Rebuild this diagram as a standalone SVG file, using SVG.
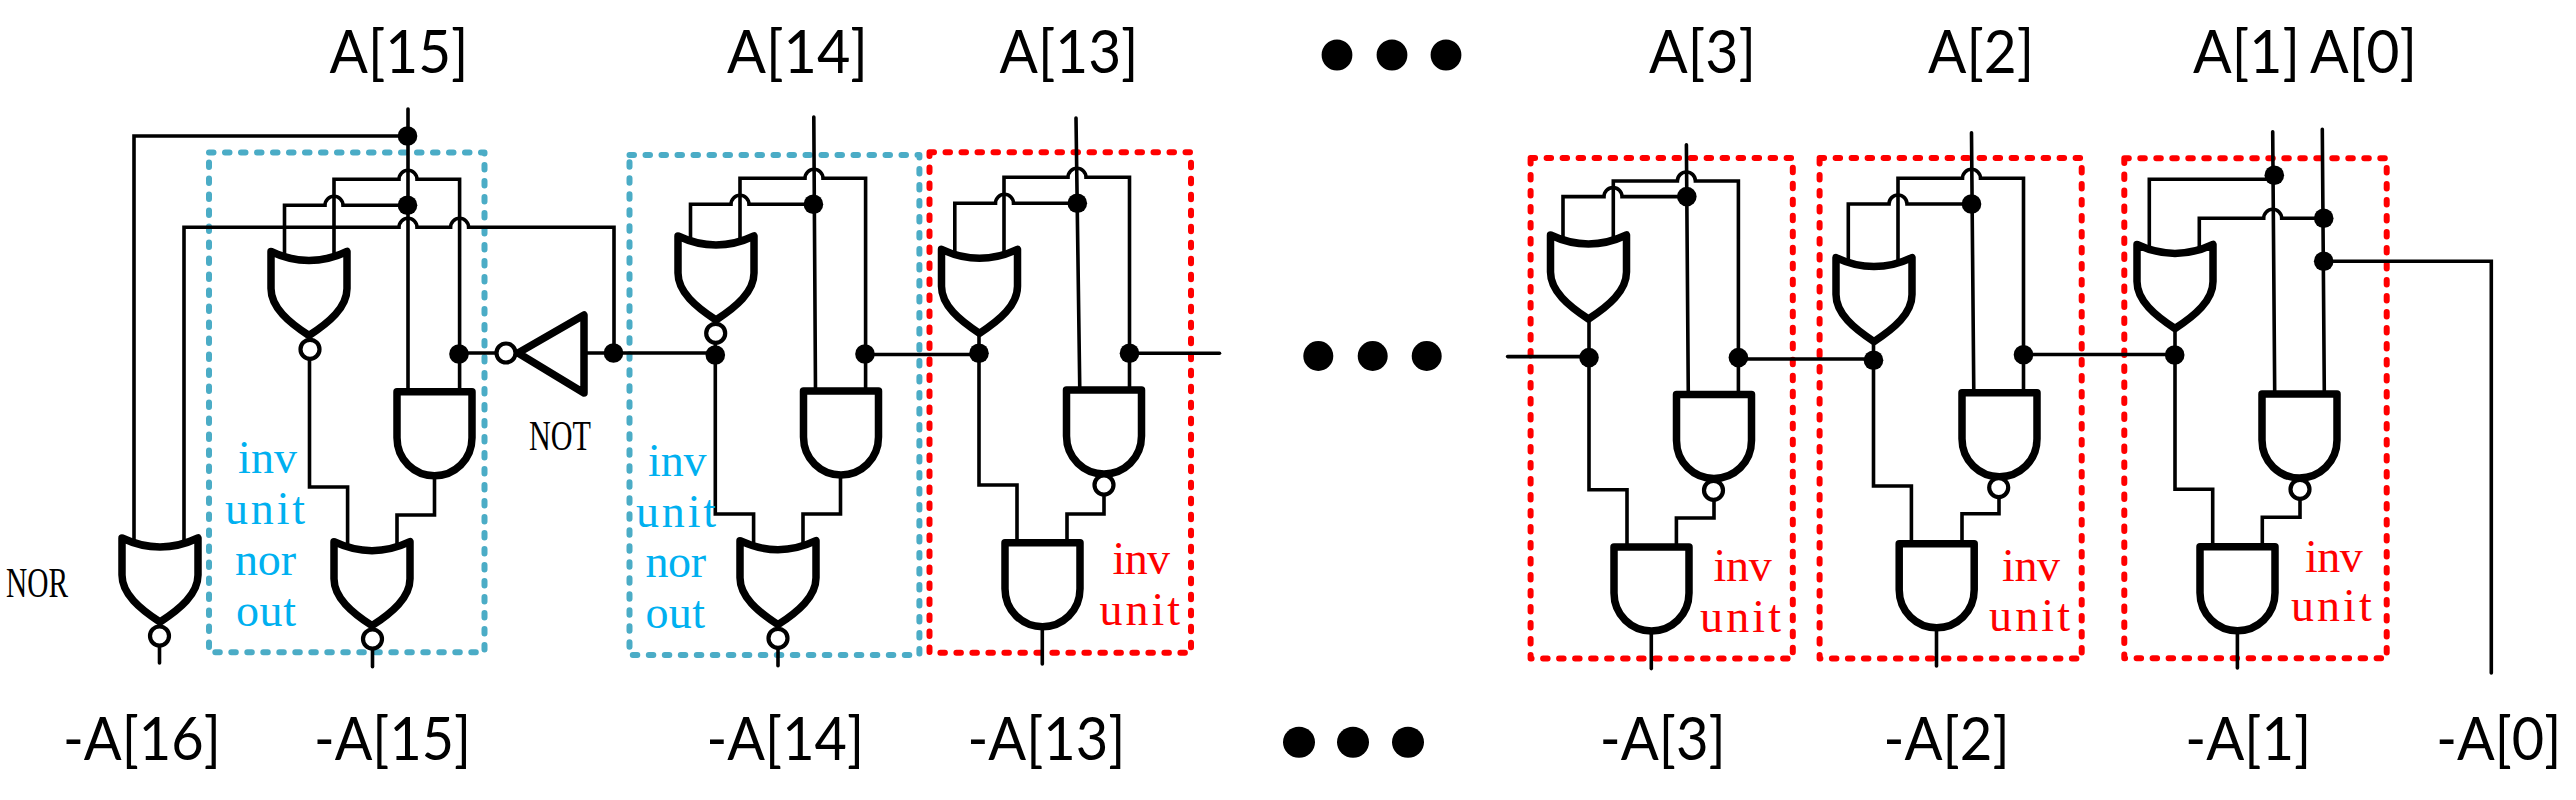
<svg xmlns="http://www.w3.org/2000/svg" xmlns:xlink="http://www.w3.org/1999/xlink" width="2576" height="800" viewBox="0 0 2576 800">
<style>
.bg{fill:#fff}
.box{fill:none;stroke-width:6;stroke-linecap:round;stroke-linejoin:round;stroke-dasharray:4.5 11.5}
.bb{stroke:#4BACC6}.rb{stroke:#FF0000}
.w{fill:none;stroke:#000;stroke-width:3.6;stroke-linejoin:miter;stroke-linecap:round}
.d{fill:#000}
.g{fill:#fff;stroke:#000;stroke-width:7.5;stroke-linejoin:round}
.b{fill:#fff;stroke:#000;stroke-width:4.2}
.t{font-family:"Lato","Liberation Sans",sans-serif;font-size:60px;fill:#000}
.s{font-family:"Liberation Serif","Noto Sans CJK SC",serif;font-size:46px}
.n{font-family:"Liberation Serif",serif;font-size:42px;fill:#000}
.cb{fill:#00B0F0}.cr{fill:#FF0000}
</style>
<defs>
<path id="or" class="g" d="M-38,0 Q0,18 38,0 V37 C38,56 20,71 0,84 C-20,71 -38,56 -38,37 Z"/>
<path id="and" class="g" d="M-37.5,0 H37.5 V46 C37.5,68 20,84 0,84 C-20,84 -37.5,68 -37.5,46 Z"/>
<circle id="bub" class="b" r="9.5"/>
<circle id="dot" class="d" r="9.8"/>
</defs>
<rect class="bg" width="2576" height="800"/>
<g id="boxes">
<rect id="box-15" class="box bb" x="209" y="152.5" width="275.5" height="499.8"/>
<rect id="box-14" class="box bb" x="629.5" y="155" width="289.9" height="500"/>
<rect id="box-13" class="box rb" x="929.5" y="152.3" width="261.5" height="500.4"/>
<rect id="box-3" class="box rb" x="1530.6" y="158" width="262.2" height="500.6"/>
<rect id="box-2" class="box rb" x="1819.6" y="158" width="262.1" height="500.6"/>
<rect id="box-1" class="box rb" x="2124.3" y="158.3" width="262.4" height="500"/>
</g>
<g id="connectors">
<path class="w" d="M408 109V390"/>
<path class="w" d="M408 136H134V545"/>
<path class="w" d="M184 545V227.3H399a9 9 0 0 1 18 0H450.6a9 9 0 0 1 18 0H614V353"/>
<path class="w" d="M334 256V179.3H399a9 9 0 0 1 18 0H459.6V392"/>
<path class="w" d="M284.5 256V205.3H325a9 9 0 0 1 18 0H408"/>
<path class="w" d="M309.5 358V487H347.6V545"/>
<path class="w" d="M434.5 475V515H397V545"/>
<path class="w" d="M372.5 648V666.7"/>
<path class="w" d="M159.5 645V663"/>
<path class="w" d="M459 353H497"/>
<path class="w" d="M584 353H715.3"/>
<path class="w" d="M813.8 117L815.5 391"/>
<path class="w" d="M690.5 240V204.3H731a9 9 0 0 1 18 0H813.4"/>
<path class="w" d="M740 240V178.3H805a9 9 0 0 1 18 0H865.6V391"/>
<path class="w" d="M715.3 345V514H753.6V545"/>
<path class="w" d="M840.5 474V514H803V545"/>
<path class="w" d="M778 648V665.7"/>
<path class="w" d="M865 354.5H979"/>
<path class="w" d="M1076 118L1079.8 391"/>
<path class="w" d="M954.8 254V203.3H995.5a9 9 0 0 1 18 0H1077.3"/>
<path class="w" d="M1004 254V177.3H1068a9 9 0 0 1 18 0H1129.5V391"/>
<path class="w" d="M979 333V485H1017V545"/>
<path class="w" d="M1104 485V514H1067V545"/>
<path class="w" d="M1042.3 626V664"/>
<path class="w" d="M1129.5 353.3H1219.5"/>
<path class="w" d="M1507.6 356.6H1589"/>
<path class="w" d="M1686.4 144.8L1688.3 395"/>
<path class="w" d="M1563 238V196.6H1604a9 9 0 0 1 18 0H1686.8"/>
<path class="w" d="M1613.3 238V181H1677.4a9 9 0 0 1 18 0H1738.4V395"/>
<path class="w" d="M1589 319V489.7H1627V547"/>
<path class="w" d="M1714 490V518H1676.4V547"/>
<path class="w" d="M1651.3 631V668.6"/>
<path class="w" d="M1738.4 359H1873"/>
<path class="w" d="M1971.5 132.8L1973.8 393"/>
<path class="w" d="M1848.3 262V204H1889a9 9 0 0 1 18 0H1971.5"/>
<path class="w" d="M1898 262V178.3H1962.5a9 9 0 0 1 18 0H2023.5V393"/>
<path class="w" d="M1873.5 341V486H1911.4V544"/>
<path class="w" d="M1999 488V513.8H1962V544"/>
<path class="w" d="M1936.5 628V666"/>
<path class="w" d="M2023.5 354.5H2174.7"/>
<path class="w" d="M2272.7 131.7L2274.7 392"/>
<path class="w" d="M2322.3 129.3L2324.3 392"/>
<path class="w" d="M2149.3 250V179.3H2274"/>
<path class="w" d="M2199.3 250V218.3H2263.7a9 9 0 0 1 18 0H2323.7"/>
<path class="w" d="M2323.7 261.3H2491.3V673"/>
<path class="w" d="M2175 331V489.3H2212.7V547"/>
<path class="w" d="M2300 489V517.3H2262.3V547"/>
<path class="w" d="M2237.4 631V668"/>
</g>
<g id="junctions">
<use href="#dot" x="407.5" y="136"/><use href="#dot" x="407.5" y="205.3"/>
<use href="#dot" x="459" y="354"/><use href="#dot" x="613.5" y="353"/>
<use href="#dot" x="715.3" y="355"/><use href="#dot" x="813.4" y="204.3"/><use href="#dot" x="865" y="354"/>
<use href="#dot" x="979" y="353.3"/><use href="#dot" x="1077.3" y="203.3"/><use href="#dot" x="1129.5" y="353.3"/>
<use href="#dot" x="1589" y="357.6"/><use href="#dot" x="1686.8" y="196.6"/><use href="#dot" x="1738.4" y="357.6"/>
<use href="#dot" x="1873.5" y="360.3"/><use href="#dot" x="1971.5" y="204"/><use href="#dot" x="2023.5" y="354.8"/>
<use href="#dot" x="2174.7" y="355"/><use href="#dot" x="2274.3" y="175.3"/><use href="#dot" x="2323.7" y="218.3"/><use href="#dot" x="2323.7" y="261.3"/>
</g>
<g id="nor-out"><use href="#or" x="160" y="538"/><use href="#bub" x="159.5" y="636"/></g>
<g id="u15-or-a"><use href="#or" x="309" y="251.5"/><use href="#bub" x="310" y="349.3"/></g>
<g id="u15-and"><use href="#and" x="434.5" y="391.7"/></g>
<g id="u15-or-b"><use href="#or" x="372" y="541.7"/><use href="#bub" x="372.5" y="639"/></g>
<g id="not-gate"><path class="g" d="M518 353L584 315V393Z" /><use href="#bub" x="506" y="353"/></g>
<g id="u14-or-a"><use href="#or" x="716" y="236"/><use href="#bub" x="715.7" y="333.3"/></g>
<g id="u14-and"><use href="#and" x="841" y="391"/></g>
<g id="u14-or-b"><use href="#or" x="778" y="540.7"/><use href="#bub" x="778" y="638.3"/></g>
<g id="u13-or"><use href="#or" x="979.5" y="249.3"/></g>
<g id="u13-nand"><use href="#and" x="1104" y="390"/><use href="#bub" x="1104" y="485"/></g>
<g id="u13-and"><use href="#and" x="1042.5" y="542.7"/></g>
<g id="u3-or"><use href="#or" x="1588.5" y="235"/></g>
<g id="u3-nand"><use href="#and" x="1714" y="394.5"/><use href="#bub" x="1713.5" y="490.3"/></g>
<g id="u3-and"><use href="#and" x="1651.5" y="547"/></g>
<g id="u2-or"><use href="#or" x="1874" y="257.6"/></g>
<g id="u2-nand"><use href="#and" x="1999.5" y="392.8"/><use href="#bub" x="1998.7" y="487.6"/></g>
<g id="u2-and"><use href="#and" x="1936.7" y="543.8"/></g>
<g id="u1-or"><use href="#or" x="2175" y="244.5"/></g>
<g id="u1-nand"><use href="#and" x="2299.5" y="394"/><use href="#bub" x="2300" y="489.3"/></g>
<g id="u1-and"><use href="#and" x="2237.5" y="546.7"/></g>
<g id="ellipsis-top" class="d"><ellipse cx="1337" cy="55" rx="15.4" ry="15.5"/><ellipse cx="1392" cy="55" rx="15.4" ry="15.5"/><ellipse cx="1446" cy="55" rx="15.4" ry="15.5"/></g>
<g id="ellipsis-mid" class="d"><circle cx="1318.3" cy="356" r="15"/><circle cx="1372.7" cy="356" r="15"/><circle cx="1426.7" cy="356" r="15"/></g>
<g id="ellipsis-bot" class="d"><ellipse cx="1299" cy="742.3" rx="16" ry="15.5"/><ellipse cx="1353" cy="742.3" rx="16" ry="15.5"/><ellipse cx="1408" cy="742.3" rx="16" ry="15.5"/></g>
<g id="labels-in">
<text class="t" x="329.5" y="73" textLength="139" lengthAdjust="spacingAndGlyphs">A[15]</text>
<text class="t" x="727" y="73" textLength="141" lengthAdjust="spacingAndGlyphs">A[14]</text>
<text class="t" x="999.5" y="73" textLength="139" lengthAdjust="spacingAndGlyphs">A[13]</text>
<text class="t" x="1649" y="73" textLength="107" lengthAdjust="spacingAndGlyphs">A[3]</text>
<text class="t" x="1928" y="73" textLength="106" lengthAdjust="spacingAndGlyphs">A[2]</text>
<text class="t" x="2193" y="73" textLength="107" lengthAdjust="spacingAndGlyphs">A[1]</text>
<text class="t" x="2310" y="73" textLength="107" lengthAdjust="spacingAndGlyphs">A[0]</text>
</g>
<g id="labels-out">
<text class="t" x="63" y="760" textLength="158" lengthAdjust="spacingAndGlyphs">-A[16]</text>
<text class="t" x="314" y="760" textLength="157" lengthAdjust="spacingAndGlyphs">-A[15]</text>
<text class="t" x="706.6" y="760" textLength="157.4" lengthAdjust="spacingAndGlyphs">-A[14]</text>
<text class="t" x="967.5" y="760" textLength="158" lengthAdjust="spacingAndGlyphs">-A[13]</text>
<text class="t" x="1599.8" y="760" textLength="126" lengthAdjust="spacingAndGlyphs">-A[3]</text>
<text class="t" x="1883.6" y="760" textLength="126" lengthAdjust="spacingAndGlyphs">-A[2]</text>
<text class="t" x="2185.3" y="760" textLength="126" lengthAdjust="spacingAndGlyphs">-A[1]</text>
<text class="t" x="2436.3" y="760" textLength="125" lengthAdjust="spacingAndGlyphs">-A[0]</text>
</g>
<g id="gate-names">
<text class="n" x="6" y="597" textLength="62" lengthAdjust="spacingAndGlyphs">NOR</text>
<text class="n" x="529" y="450" textLength="62" lengthAdjust="spacingAndGlyphs">NOT</text>
</g>
<g id="unit-names" class="s">
<text class="cb" x="238" y="472.7" textLength="59">inv</text>
<text class="cb" x="225" y="524" textLength="80">unit</text>
<text class="cb" x="235" y="575" textLength="61">nor</text>
<text class="cb" x="236" y="626" textLength="60">out</text>
<text class="cb" x="648" y="476" textLength="58.5">inv</text>
<text class="cb" x="636" y="526.7" textLength="80">unit</text>
<text class="cb" x="645.5" y="576.7" textLength="60.5">nor</text>
<text class="cb" x="645.5" y="627.7" textLength="59.5">out</text>
<text class="cr" x="1112.6" y="574" textLength="57.4">inv</text>
<text class="cr" x="1099.6" y="625" textLength="80.4">unit</text>
<text class="cr" x="1713.5" y="581" textLength="58.2">inv</text>
<text class="cr" x="1700" y="631.7" textLength="81">unit</text>
<text class="cr" x="2002" y="581" textLength="58">inv</text>
<text class="cr" x="1989" y="630.7" textLength="81">unit</text>
<text class="cr" x="2305" y="571.7" textLength="57.7">inv</text>
<text class="cr" x="2291" y="621" textLength="80.7">unit</text>
</g>
</svg>
